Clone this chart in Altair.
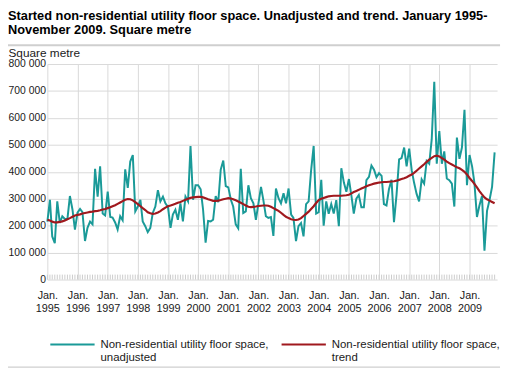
import altair as alt
import pandas as pd

# ---- data (thousand square metres) ----
years = list(range(1995, 2010))

unadj_1995 = [215, 296, 160, 135, 290, 210, 235, 225, 225, 310, 260, 185]
unadj_1996 = [248, 262, 250, 143, 192, 215, 205, 411, 308, 420, 245, 238]
unadj_1997 = [326, 232, 230, 212, 186, 235, 220, 409, 340, 438, 462, 253]
unadj_1998 = [271, 296, 216, 198, 176, 192, 247, 271, 332, 290, 308, 283]
unadj_1999 = [270, 192, 241, 259, 222, 283, 216, 308, 290, 496, 296, 350]
unadj_2000 = [350, 335, 260, 137, 218, 216, 222, 310, 287, 408, 442, 347]
unadj_2001 = [342, 296, 271, 205, 190, 411, 247, 253, 350, 302, 283, 222]
unadj_2002 = [283, 344, 296, 235, 229, 232, 162, 338, 302, 283, 320, 283]
unadj_2003 = [338, 241, 229, 143, 198, 210, 160, 280, 290, 405, 496, 245]
unadj_2004 = [250, 370, 200, 290, 244, 280, 245, 295, 198, 413, 360, 326]
unadj_2005 = [373, 310, 245, 300, 314, 268, 268, 369, 381, 423, 408, 380]
unadj_2006 = [395, 385, 280, 275, 335, 370, 213, 315, 446, 451, 490, 420]
unadj_2007 = [486, 405, 360, 318, 290, 372, 356, 440, 430, 520, 734, 430]
unadj_2008 = [551, 430, 476, 375, 369, 356, 271, 527, 448, 490, 630, 350]
unadj_2009 = [462, 420, 360, 232, 275, 310, 107, 255, 296, 344, 472]

trend_1995 = [222, 219, 215, 212, 212, 214, 216, 219, 224, 228, 233, 238]
trend_1996 = [240, 242, 245, 247, 249, 251, 252, 254, 255, 257, 260, 262]
trend_1997 = [265, 268, 272, 276, 281, 286, 291, 296, 299, 298, 294, 287]
trend_1998 = [280, 272, 265, 258, 250, 246, 244, 245, 249, 254, 261, 267]
trend_1999 = [272, 275, 278, 281, 285, 288, 292, 296, 300, 303, 305, 306]
trend_2000 = [307, 307, 305, 302, 298, 295, 292, 292, 293, 295, 298, 300]
trend_2001 = [302, 301, 298, 294, 290, 285, 280, 275, 270, 269, 270, 271]
trend_2002 = [273, 274, 275, 275, 274, 270, 265, 260, 255, 248, 240, 233]
trend_2003 = [228, 224, 222, 221, 223, 228, 236, 244, 252, 262, 272, 284]
trend_2004 = [295, 300, 303, 306, 309, 310, 311, 311, 311, 311, 312, 313]
trend_2005 = [315, 320, 325, 329, 333, 338, 342, 346, 350, 353, 356, 358]
trend_2006 = [360, 361, 362, 362, 363, 364, 365, 367, 370, 373, 376, 380]
trend_2007 = [385, 390, 396, 404, 412, 420, 428, 437, 445, 452, 458, 460]
trend_2008 = [457, 451, 445, 438, 432, 427, 422, 417, 413, 407, 400, 390]
trend_2009 = [377, 366, 355, 342, 328, 316, 305, 298, 293, 288, 283]

unadjusted = (unadj_1995 + unadj_1996 + unadj_1997 + unadj_1998 + unadj_1999 +
              unadj_2000 + unadj_2001 + unadj_2002 + unadj_2003 + unadj_2004 +
              unadj_2005 + unadj_2006 + unadj_2007 + unadj_2008 + unadj_2009)
trend = (trend_1995 + trend_1996 + trend_1997 + trend_1998 + trend_1999 +
         trend_2000 + trend_2001 + trend_2002 + trend_2003 + trend_2004 +
         trend_2005 + trend_2006 + trend_2007 + trend_2008 + trend_2009)

n = len(unadjusted)
dates = [f"{y}-{m:02d}-01T00:00:00" for y in years for m in range(1, 13)][:n]

SER_U = "Non-residential utility floor space,|unadjusted"
SER_T = "Non-residential utility floor space,|trend"
series_names = [SER_U, SER_T]
series_colors = ["#1a9a98", "#a0191e"]

title_lines = ["Started non-residential utility floor space. Unadjusted and trend. January 1995-",
               "November 2009. Square metre"]

df = pd.DataFrame({
    "date": dates + dates,
    "value": [v * 1000 for v in unadjusted] + [v * 1000 for v in trend],
    "series": [SER_U] * n + [SER_T] * n,
})
months = pd.DataFrame({"date": dates})
one = pd.DataFrame({"k": [0]})

FONT = "Liberation Sans"
GRID = "#d9d9d9"

x_enc = alt.X(
    "date:T",
    scale=alt.Scale(domain=[alt.DateTime(year=1995, month=1, date=1),
                            alt.DateTime(year=2009, month=12, date=1)]),
    axis=alt.Axis(
        values=[alt.DateTime(year=y, month=1, date=1) for y in years],
        labelExpr="['Jan.', timeFormat(datum.value, '%Y')]",
        title=None, grid=True, gridColor=GRID, ticks=False, domain=False,
        labelPadding=10, labelFontSize=11, labelLineHeight=13.5,
        labelOverlap=False, labelFlush=False, labelColor="#1a1a1a",
    ),
)
y_enc = alt.Y(
    "value:Q",
    scale=alt.Scale(domain=[0, 800000]),
    axis=alt.Axis(
        values=list(range(0, 800001, 100000)),
        labelExpr="replace(format(datum.value, ','), ',', ' ')",
        title="Square metre", titleAngle=0, titleX=-40, titleY=-8,
        titleAlign="left", titleBaseline="alphabetic", titleFontWeight="normal",
        titleFontSize=12, titleColor="#1a1a1a",
        grid=True, gridColor=GRID, ticks=False, domain=False,
        labelPadding=2, labelFontSize=10.5, labelColor="#1a1a1a",
    ),
)
color_enc = alt.Color(
    "series:N",
    scale=alt.Scale(domain=series_names, range=series_colors),
    legend=alt.Legend(
        orient="none", legendX=2, legendY=265, direction="horizontal",
        columns=2, columnPadding=9, padding=0, title=None,
        symbolType="M-1,-0.16L1,-0.16", symbolSize=2025, symbolStrokeWidth=2,
        labelExpr="split(datum.label, '|')", labelFontSize=11.6, labelLimit=400,
        labelBaseline="alphabetic", labelOffset=5, labelColor="#1a1a1a",
    ),
)

base = alt.Chart(df)
line_u = base.transform_filter(alt.datum.series == SER_U).mark_line(strokeWidth=2).encode(
    x=x_enc, y=y_enc, color=color_enc)
line_t = base.transform_filter(alt.datum.series == SER_T).mark_line(strokeWidth=2.2).encode(
    x=x_enc, y=y_enc, color=color_enc)

month_ticks = alt.Chart(months).mark_rule(color="#cccccc", strokeWidth=1).encode(
    x=x_enc, y=alt.value(214), y2=alt.value(219))

top_rule = alt.Chart(one).mark_rule(color="#cfcfcf", strokeWidth=2).encode(
    x=alt.value(-40), x2=alt.value(460), y=alt.value(-19))
bottom_rule = alt.Chart(one).mark_rule(color="#cfcfcf", strokeWidth=1.5).encode(
    x=alt.value(-40), x2=alt.value(460), y=alt.value(308))

chart = alt.layer(month_ticks, line_u, line_t, top_rule, bottom_rule).properties(
    width=457, height=219,
    autosize=alt.AutoSizeParams(type="none"),
    padding={"left": 40, "top": 54, "right": 6, "bottom": 90},
    title=alt.TitleParams(
        text=title_lines, anchor="start", frame="group", fontSize=13.0, font=FONT,
        fontWeight="bold", color="#000000", dx=-40, lineHeight=14, offset=8,
    ),
).configure(font=FONT).configure_view(stroke=None)

chart.save("out.html", embed_options={"renderer": "svg", "actions": False})
